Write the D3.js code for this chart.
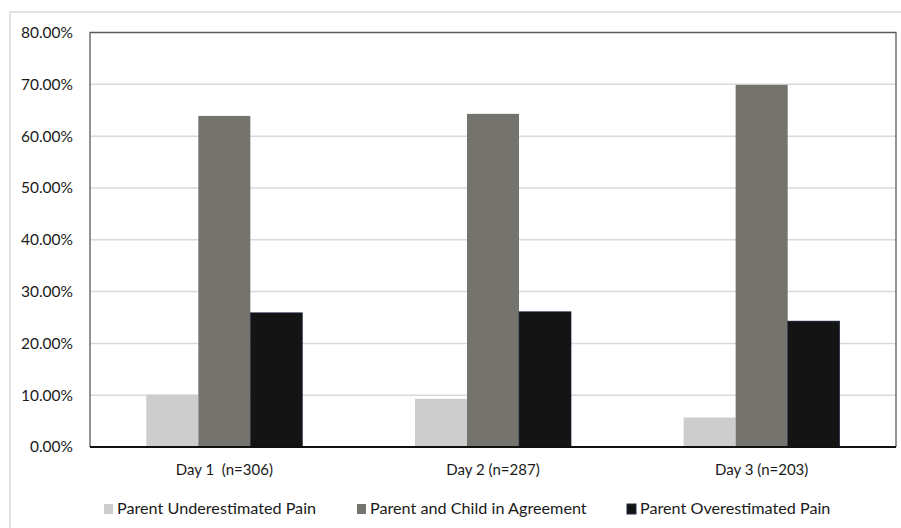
<!DOCTYPE html>
<html>
<head>
<meta charset="utf-8">
<script src="https://cdn.jsdelivr.net/npm/d3@7"></script>
<style>
  html, body { margin: 0; padding: 0; background: #fff; }
  svg { display: block; }
  text { font-family: Lato, "Open Sans", "Liberation Sans", sans-serif; fill: #1a1a1a; white-space: pre; }
</style>
</head>
<body>
<svg id="chart" width="901" height="528"></svg>
<script>
// Share of parent/child pain ratings by day
const days = ["Day 1  (n=306)", "Day 2 (n=287)", "Day 3 (n=203)"];
const seriesNames = ["Parent Underestimated Pain", "Parent and Child in Agreement", "Parent Overestimated Pain"];
const underestimated = [10.1, 9.3, 5.7];
const agreement = [63.9, 64.3, 69.9];
const overestimated = [25.9, 26.1, 24.3];
const yTicks = [0, 10, 20, 30, 40, 50, 60, 70, 80];
const colors = ["#cdcdcd", "#75736e", "#141414"];

const seriesValues = [underestimated, agreement, overestimated];
const rows = days.map((d, i) => ({
  day: d,
  values: seriesNames.map((s, j) => ({ key: s, value: seriesValues[j][i] }))
}));

const svg = d3.select("#chart");
const plot = { left: 90, right: 896, top: 32.5, bottom: 447 };

// outer chart frame
svg.append("rect")
  .attr("x", 10).attr("y", 12)
  .attr("width", 1000).attr("height", 1000)
  .attr("fill", "#fff").attr("stroke", "#d9d9d9").attr("stroke-width", 1.5);

const y = d3.scaleLinear().domain([0, 80]).range([plot.bottom, plot.top]);
const x0 = d3.scaleBand().domain(days).range([plot.left, plot.right])
  .paddingInner(0.419).paddingOuter(0.2095);
const x1 = d3.scaleBand().domain(seriesNames).range([0, x0.bandwidth()]);

// gridlines
svg.append("g")
  .selectAll("line")
  .data(yTicks.filter(t => t > 0 && t < 80))
  .join("line")
  .attr("x1", plot.left).attr("x2", plot.right)
  .attr("y1", d => y(d)).attr("y2", d => y(d))
  .attr("stroke", "#d9d9d9").attr("stroke-width", 1.5);

// y axis labels
const yAxis = d3.axisLeft(y).tickValues(yTicks)
  .tickFormat(d => d.toFixed(2) + "%").tickSize(0).tickPadding(17);
const yg = svg.append("g").attr("transform", `translate(${plot.left},0)`).call(yAxis);
yg.select(".domain").remove();
yg.selectAll("text").attr("font-size", 15.5).attr("font-family", "Lato, sans-serif").attr("fill", "#1a1a1a");

// bars
const groups = svg.append("g")
  .selectAll("g")
  .data(rows)
  .join("g")
  .attr("transform", d => `translate(${x0(d.day)},0)`);

groups.selectAll("rect")
  .data(d => d.values)
  .join("rect")
  .attr("x", d => x1(d.key))
  .attr("width", x1.bandwidth())
  .attr("y", d => y(d.value))
  .attr("height", d => y(0) - y(d.value))
  .attr("fill", (d, i) => colors[i])
  .attr("stroke", (d, i) => i === 2 ? "#1e2b45" : "none")
  .attr("stroke-width", 0.6);

// plot frame
svg.append("path")
  .attr("d", `M${plot.left},${plot.bottom} V${plot.top} H${plot.right} V${plot.bottom}`)
  .attr("fill", "none").attr("stroke", "#5a5a5a").attr("stroke-width", 1.3);

// x axis
const xAxis = d3.axisBottom(x0).tickSize(0).tickPadding(17);
const xg = svg.append("g").attr("transform", `translate(0,${plot.bottom})`).call(xAxis);
xg.select(".domain").attr("stroke", "#111").attr("stroke-width", 1.8)
  .attr("d", `M${plot.left},0H${plot.right}`);
xg.selectAll("text").attr("font-size", 15).attr("font-family", "Lato, sans-serif").attr("fill", "#1a1a1a");

// legend
const legendX = [104, 357, 627];
const legend = svg.append("g")
  .selectAll("g")
  .data(seriesNames)
  .join("g")
  .attr("transform", (d, i) => `translate(${legendX[i]},508)`);
legend.append("rect")
  .attr("x", 0).attr("y", -4).attr("width", 9).attr("height", 10)
  .attr("fill", (d, i) => colors[i])
  .attr("stroke", (d, i) => i === 2 ? "#1e2b45" : "none");
legend.append("text")
  .attr("x", 13).attr("y", 6)
  .attr("font-size", 16.2)
  .text(d => d);
</script>
</body>
</html>
